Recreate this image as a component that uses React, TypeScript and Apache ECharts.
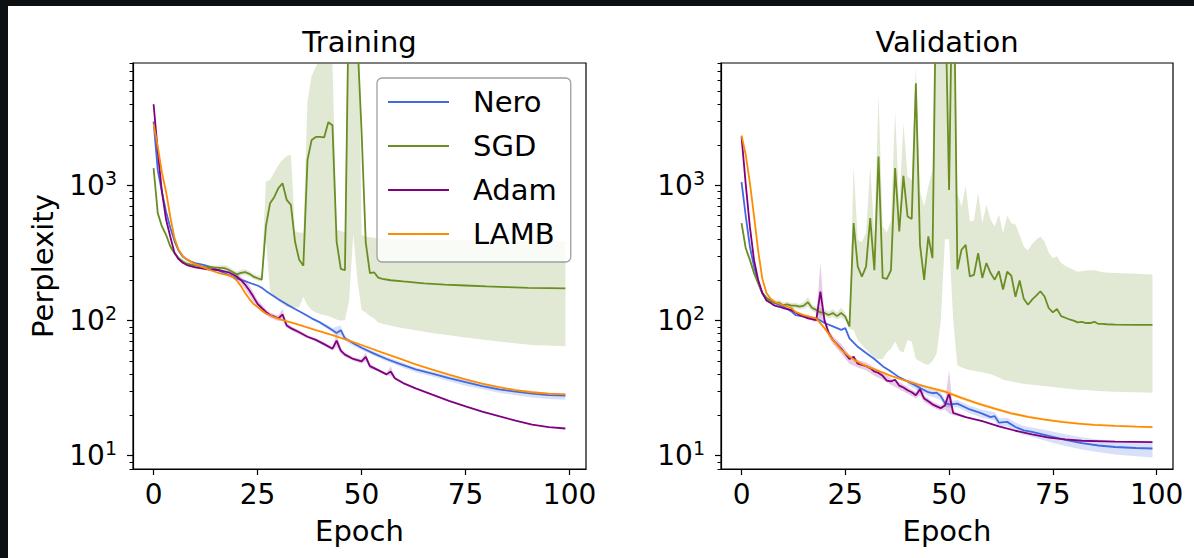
import React, { useEffect, useRef } from 'react';
import * as echarts from 'echarts';

type P = [number, number];
type B = [number, number, number];

// ---------- axes / ticks ----------
const EPOCH_MIN = -4.95;
const EPOCH_MAX = 103.95;
const EPOCH_TICKS = [0, 25, 50, 75, 100];
const Y_MIN = 7.97;
const Y_MAX = 8080;
const Y_MAJOR = [10, 100, 1000];
const Y_MINOR = [8, 9, 20, 30, 40, 50, 60, 70, 80, 90, 200, 300, 400, 500, 600, 700, 800, 900, 2000, 3000, 4000, 5000, 6000, 7000, 8000];
const NAMES = ['Nero', 'SGD', 'Adam', 'LAMB'];
const TITLES = ['Training', 'Validation'];

// ---------- Training ----------
const neroTrain: P[] = [[0,2980],[1,1300],[2,900],[3,640],[4,490],[5,390],[6,330],[7,298],[8,284],[9,274],[10,267],[12,259],[14,248],[16,232],[18,218],[20,205],[22,196],[24,186],[25,182],[26,175],[27,166],[28,158],[30,144],[32,132],[34,122],[36,113],[38,104],[40,97],[42,89],[43,85],[44,81],[45,85],[46,74],[48,68],[50,63],[53,57],[56,52],[59,48],[63,43.5],[67,40.5],[71,37.5],[75,35],[79,32.8],[83,31],[87,29.8],[91,28.8],[95,28.1],[99,27.8]];
const sgdTrain: P[] = [[0,1346],[1,625],[2,498],[3,432],[4,355],[5,316],[6,290],[7,274],[8,264],[10,255],[12,250],[15,247],[17,245],[18,238],[19,229],[20,220],[21,226],[22,229],[23,222],[24,212],[25,206],[26,201],[27,498],[28,741],[29,820],[30,957],[31,1040],[32,783],[33,720],[34,385],[35,282],[36,255],[37,1549],[38,2177],[39,2290],[40,2290],[41,2270],[42,2944],[43,2800],[44,385],[45,242],[46,236],[47,35000],[48,30000],[49,12000],[50,2500],[51,380],[52,225],[53,228],[54,208],[55,204],[57,199],[60,195],[65,189],[70,185],[75,182],[80,179],[85,177],[90,175],[95,174],[99,173]];
const adamTrain: P[] = [[0,4000],[1,1800],[2,900],[3,560],[4,420],[5,320],[6,285],[7,268],[8,258],[10,248],[13,240],[16,236],[18,228],[20,212],[21,200],[22,185],[23,168],[24,150],[25,133],[26,124],[27,116],[28,110],[29,107],[30,104],[31,111],[32,92],[33,88],[35,82],[37,76],[39,72],[41,67],[43,62],[44,71],[45,60],[46,56],[48,52],[50,50],[51,54],[52,46],[54,43],[56,40],[57,42],[58,37.5],[60,34.5],[63,31.5],[67,28.3],[71,25.5],[75,23.2],[79,21.2],[83,19.6],[87,18.2],[91,17],[95,16.3],[99,15.9]];
const lambTrain: P[] = [[0,2850],[1,1950],[2,1250],[3,900],[4,590],[5,410],[6,335],[7,302],[8,283],[10,262],[12,248],[14,234],[16,224],[18,216],[19,210],[20,198],[21,180],[22,160],[23,145],[24,133],[25,126],[26,119],[27,113],[29,106],[31,101],[33,97],[35,93],[39,85],[43,78],[47,71],[50,66],[55,58],[59,52.5],[63,47.5],[67,43.3],[71,39.8],[75,36.7],[79,34.2],[83,32.2],[87,30.6],[91,29.5],[95,28.8],[99,28.4]];

const sgdTrainBand: B[] = [[0,1300,1400],[1,600,650],[2,480,515],[3,415,450],[4,340,370],[5,305,328],[6,280,300],[8,255,273],[10,247,263],[12,242,258],[15,239,255],[17,236,258],[18,228,252],[19,220,240],[20,212,230],[21,215,238],[22,218,240],[23,212,232],[24,203,222],[25,198,215],[26,195,215],[27,400,1070],[28,165,1100],[29,150,1250],[30,140,1420],[31,132,1550],[32,127,1650],[33,125,1700],[34,125,460],[35,125,450],[36,150,450],[37,130,4200],[38,120,6500],[39,115,7500],[40,112,9000],[41,110,9500],[42,108,10000],[43,105,8000],[44,102,470],[45,100,460],[46,101,450],[47,140,100000],[48,440,100000],[49,200,100000],[50,120,430],[51,115,420],[52,108,415],[53,104,410],[54,97,405],[55,95,403],[59,89,400],[67,81,395],[75,75,392],[83,70,390],[91,66,388],[99,64.5,385]];
const neroTrainBand: B[] = [[40,94,100],[42,86,92],[43,82,88],[44,76,90],[45,78,92],[46,71,77],[48,65,70],[50,60.5,65],[53,55,59],[56,50,54],[59,46,50],[63,41.5,45],[67,38.5,42],[71,35.5,39],[75,33,36.5],[79,31,34.5],[83,29.3,32.5],[87,28,31],[91,27,30],[95,26.3,29.3],[99,26,29]];
const adamTrainBand: B[] = [[18,222,234],[20,202,222],[21,188,212],[22,170,200],[23,153,183],[24,138,162],[25,124,142],[26,116,132],[27,110,122],[28,105,115],[29,102,112],[30,99,109],[31,100,122],[32,88,96],[33,85,91],[35,79,85],[37,74,78],[39,70,74],[41,65,69],[43,60,64],[44,64,80],[45,57,63],[46,54,58],[48,50.5,53.5],[50,48,52],[51,50,58],[52,44,48],[54,42,44],[56,39,41],[57,39,46],[58,36.5,38.5],[60,34,35]];

// ---------- Validation ----------
const neroVal: P[] = [[0,1060],[1,600],[2,354],[3,252],[4,190],[5,160],[6,147],[7,141],[8,135],[10,127],[12,117],[13,110],[15,107],[18,104],[20,96],[22,90.6],[24,85.5],[25,88],[26,74],[28,64],[30,57.5],[32,52],[34,46],[36,42],[38,38],[40,35.5],[42,33],[43,31.7],[45,29.5],[46,29],[47,29.3],[48,27.6],[49,24.5],[50,24],[52,24.3],[55,22],[57,21],[58,20.5],[60,19.3],[61,19.6],[62,17.6],[64,17.8],[66,16.3],[68,15.4],[70,15],[74,14],[78,13.1],[82,12.4],[86,11.9],[90,11.6],[95,11.4],[99,11.3]];
const sgdVal: P[] = [[0,527],[1,345],[2,282],[3,225],[4,190],[5,160],[6,147],[7,139],[8,135],[9,136],[10,130],[11,132],[12,129],[13,129],[14,127],[15,129],[16,137],[17,124],[18,120],[19,115],[20,114],[21,110],[22,114],[23,108],[24,114],[25,107],[26,90.6],[27,527],[28,251],[29,212],[30,251],[31,574],[32,236],[33,1640],[34,207],[35,204],[36,236],[37,1346],[38,457],[39,1180],[40,590],[41,565],[42,5716],[43,362],[44,200],[45,420],[46,290],[47,60000],[48,40000],[49,35000],[50,929],[51,100000],[52,240],[53,335],[54,364],[55,213],[56,218],[57,316],[58,207],[59,267],[60,225],[61,201],[62,232],[63,170],[64,230],[65,215],[66,150],[67,198],[68,145],[69,131],[70,143],[71,153],[72,165],[73,151],[74,124],[75,115],[76,122],[77,108],[78,105],[79,102],[80,100],[81,97],[82,98],[83,96],[84,96],[85,98],[86,94.5],[87,94.5],[88,94],[90,93.5],[95,93],[99,93]];
const adamVal: P[] = [[0,2306],[1,1030],[2,498],[3,282],[4,201],[5,160],[6,141],[7,135],[8,129],[10,124],[12,120],[14,110],[16,104],[18,101],[19,164],[20,100],[21,81],[22,72],[24,62],[26,52],[27,54],[28,48],[29,47],[30,46],[31,44.5],[32,42],[33,41],[34,39],[35,36],[36,35.5],[37,36.5],[38,33],[39,32],[40,30.5],[41,29.5],[42,28],[43,31],[44,26.5],[45,25.3],[46,24],[47,23.2],[48,22.5],[49,23.5],[50,29],[51,20.7],[54,19.3],[58,18],[62,16.5],[66,15.3],[70,14.4],[74,13.6],[78,13.2],[82,12.9],[90,12.7],[99,12.6]];
const lambVal: P[] = [[0,2350],[1,1700],[2,1050],[3,600],[4,330],[5,205],[6,160],[7,145],[8,138],[10,130],[12,124],[13,116],[15,110],[18,104],[20,88],[22,72],[24,61],[26,54],[28,49.5],[30,46],[33,42.5],[36,39],[40,35.5],[45,32],[49,29.8],[53,26.8],[57,24.3],[61,22.3],[65,20.6],[69,19.4],[73,18.5],[77,17.8],[81,17.3],[85,16.9],[90,16.6],[95,16.4],[99,16.3]];

const sgdValBand: B[] = [[0,505,550],[1,330,360],[2,270,295],[3,215,236],[4,182,198],[5,153,167],[6,141,153],[7,133,145],[8,129,141],[9,130,142],[10,124,136],[11,126,138],[12,123,135],[13,123,135],[14,121,133],[15,122,137],[16,127,150],[17,118,130],[18,114,127],[19,109,124],[20,108,121],[21,104,117],[22,107,122],[23,102,115],[24,106,125],[25,100,115],[26,87,95],[27,85,1383],[28,72,397],[29,66,380],[30,61,450],[31,57,1383],[32,53,420],[33,52,4680],[34,52,498],[35,58,450],[36,62,550],[37,70,3530],[38,60,700],[39,58,2890],[40,72,1167],[41,70,1100],[42,52,7600],[43,50,900],[44,48,700],[45,47,984],[46,50,1300],[47,57,200000],[48,100,200000],[49,400,200000],[50,400,200000],[51,100,200000],[52,47,880],[53,45,700],[54,44,1000],[55,43,542],[56,42.5,550],[57,42,880],[58,41.5,527],[59,41,720],[60,40,560],[61,39,498],[62,38,610],[63,36.5,444],[64,36,600],[65,35.5,527],[66,35,515],[67,34.5,430],[68,34,354],[69,33.8,330],[70,33.5,370],[71,33.3,397],[72,33,420],[73,32.8,385],[74,32.5,320],[75,32.2,290],[76,32,300],[77,31.8,267],[78,31.5,255],[79,31.3,245],[80,31,238],[81,30.8,230],[83,30.6,235],[85,30.3,236],[87,30,228],[90,29.8,225],[95,29.5,222],[99,29.3,220]];
const neroValBand: B[] = [[40,33.5,37.5],[42,31,35],[43,30,33.5],[45,27.8,31.2],[46,27.3,30.7],[48,25.8,29.4],[49,23,26],[50,22.6,25.4],[52,22.8,25.8],[55,20.6,23.4],[58,19.1,21.9],[61,18.2,21],[62,16.3,18.9],[64,16.5,19.1],[66,15,17.6],[68,14.2,16.6],[70,13.8,16.2],[74,12.7,15.3],[78,11.8,14.4],[82,11.1,13.7],[86,10.6,13.2],[90,10.2,12.9],[95,9.9,12.8],[99,9.7,12.7]];
const adamValBand: B[] = [[17,99,105],[18,98,104],[19,100,267],[20,96,108],[21,76,86],[22,67,77],[24,57,67],[26,48,56],[28,45,51],[30,43,49],[32,39,45],[34,36.5,41.5],[36,33.5,37.5],[38,31,35],[40,28.8,32.2],[42,26.5,29.5],[43,28,34],[44,25,28],[46,22.8,25.2],[48,21.5,23.5],[49,22,25],[50,20.5,43],[51,20,21.5],[54,18.9,19.7]];
const lambValBand: B[] = [[45,31,33],[49,28.9,30.7],[53,26,27.6],[57,23.6,25],[61,21.7,22.9],[65,20.1,21.1],[69,19,19.8],[75,17.9,18.6],[85,16.7,17.2],[99,16.1,16.5]];

// ---------- styles ----------
const FONT = "'DejaVu Sans', 'Noto Sans', sans-serif";
const LINE_COLORS = ['#4169E1', '#6B8E23', '#800080', '#FF8C00'];
const BAND_COLORS = ['rgba(65,105,225,0.2)', 'rgba(107,142,35,0.2)', 'rgba(128,0,128,0.2)', 'rgba(255,140,0,0.2)'];

function lineSeries(idx: number, data: P[], gi: number) {
  const color = LINE_COLORS[idx];
  return {
    name: NAMES[idx],
    type: 'line',
    data,
    xAxisIndex: gi,
    yAxisIndex: gi * 2,
    showSymbol: false,
    symbol: 'none',
    color,
    itemStyle: { color },
    lineStyle: { color, width: 1.8 },
    clip: true,
    silent: true,
    z: 3,
  };
}

function bandSeries(idx: number, band: B[], gi: number) {
  return {
    type: 'custom',
    xAxisIndex: gi,
    yAxisIndex: gi * 2,
    clip: true,
    silent: true,
    z: 1,
    data: [[band[0][0], band[0][1]]],
    renderItem: (_params: any, api: any) => {
      const upper = band.map((b) => api.coord([b[0], b[2]]));
      const lower = band.slice().reverse().map((b) => api.coord([b[0], b[1]]));
      return {
        type: 'polygon',
        shape: { points: upper.concat(lower) },
        style: { fill: BAND_COLORS[idx], stroke: 'none' },
      };
    },
  };
}

function xAxis(gi: number) {
  return {
    type: 'value',
    gridIndex: gi,
    min: EPOCH_MIN,
    max: EPOCH_MAX,
    name: 'Epoch',
    nameLocation: 'middle',
    nameGap: 47,
    nameTextStyle: { fontFamily: FONT, fontSize: 29, color: '#000' },
    axisLine: { show: true, onZero: false, lineStyle: { color: '#000', width: 1.2 } },
    axisTick: { show: true, length: 6, customValues: EPOCH_TICKS, lineStyle: { color: '#000', width: 1.2 } },
    axisLabel: { show: true, customValues: EPOCH_TICKS, margin: 11, fontFamily: FONT, fontSize: 28, color: '#000' },
    splitLine: { show: false },
  };
}

function yAxes(gi: number) {
  return [
    {
      type: 'log',
      logBase: 10,
      gridIndex: gi,
      min: Y_MIN,
      max: Y_MAX,
      position: 'left',
      name: gi === 0 ? 'Perplexity' : '',
      nameLocation: 'middle',
      nameGap: 76,
      nameRotate: 90,
      nameTextStyle: { fontFamily: FONT, fontSize: 29, color: '#000' },
      axisLine: { show: true, onZero: false, lineStyle: { color: '#000', width: 1.2 } },
      axisTick: { show: true, length: 6, customValues: Y_MAJOR, lineStyle: { color: '#000', width: 1.2 } },
      axisLabel: {
        show: true,
        customValues: Y_MAJOR,
        margin: 16,
        formatter: (v: number) => `{b|10}{s|${Math.round(Math.log10(v))}}`,
        rich: {
          b: { fontFamily: FONT, fontSize: 28, lineHeight: 34, color: '#000' },
          s: { fontFamily: FONT, fontSize: 19, lineHeight: 19, verticalAlign: 'top', color: '#000' },
        },
      },
      splitLine: { show: false },
      minorTick: { show: false },
      minorSplitLine: { show: false },
    },
    {
      type: 'log',
      logBase: 10,
      gridIndex: gi,
      min: Y_MIN,
      max: Y_MAX,
      position: 'left',
      offset: 0,
      axisLine: { show: false, onZero: false },
      axisTick: { show: true, length: 3.5, customValues: Y_MINOR, lineStyle: { color: '#000', width: 1 } },
      axisLabel: { show: false },
      splitLine: { show: false },
    },
  ];
}

export default function App() {
  const ref = useRef<HTMLDivElement>(null);
  useEffect(() => {
    if (!ref.current) return;
    const chart = echarts.init(ref.current, undefined, { renderer: 'svg' });
    const option: any = {
      animation: false,
      backgroundColor: '#ffffff',
      textStyle: { fontFamily: FONT },
      title: [
        { text: TITLES[0], left: 351.5, top: 21, textAlign: 'center', padding: 0, textStyle: { fontFamily: FONT, fontSize: 29, fontWeight: 'normal', color: '#000' } },
        { text: TITLES[1], left: 939, top: 21, textAlign: 'center', padding: 0, textStyle: { fontFamily: FONT, fontSize: 29, fontWeight: 'normal', color: '#000' } },
      ],
      grid: [
        { left: 125, top: 57, width: 453, height: 406, show: true, borderColor: '#000', borderWidth: 1.2, backgroundColor: 'transparent' },
        { left: 713, top: 57, width: 452, height: 406, show: true, borderColor: '#000', borderWidth: 1.2, backgroundColor: 'transparent' },
      ],
      xAxis: [xAxis(0), xAxis(1)],
      yAxis: [...yAxes(0), ...yAxes(1)],
      legend: {
        data: NAMES,
        orient: 'vertical',
        left: 369,
        top: 72,
        padding: [9, 14, 13, 11],
        itemGap: 14,
        itemWidth: 61,
        itemHeight: 2,
        icon: 'rect',
        backgroundColor: 'rgba(255,255,255,0.8)',
        borderColor: '#a0a0a0',
        borderWidth: 1.3,
        borderRadius: 5,
        selectedMode: false,
        textStyle: { fontFamily: FONT, fontSize: 29, lineHeight: 30, color: '#000', padding: [0, 0, 0, 19] },
        z: 10,
      },
      series: [
        bandSeries(1, sgdTrainBand, 0),
        bandSeries(0, neroTrainBand, 0),
        bandSeries(2, adamTrainBand, 0),
        lineSeries(0, neroTrain, 0),
        lineSeries(1, sgdTrain, 0),
        lineSeries(2, adamTrain, 0),
        lineSeries(3, lambTrain, 0),
        bandSeries(1, sgdValBand, 1),
        bandSeries(0, neroValBand, 1),
        bandSeries(2, adamValBand, 1),
        bandSeries(3, lambValBand, 1),
        lineSeries(0, neroVal, 1),
        lineSeries(1, sgdVal, 1),
        lineSeries(2, adamVal, 1),
        lineSeries(3, lambVal, 1),
      ],
    };
    chart.setOption(option);
    return () => chart.dispose();
  }, []);
  return (
    <div style={{ position: 'fixed', left: 0, top: 0, width: 1194, height: 558, background: '#0d1013' }}>
      <div ref={ref} style={{ position: 'absolute', left: 8, top: 6, width: 1186, height: 552, background: '#ffffff' }} />
    </div>
  );
}
